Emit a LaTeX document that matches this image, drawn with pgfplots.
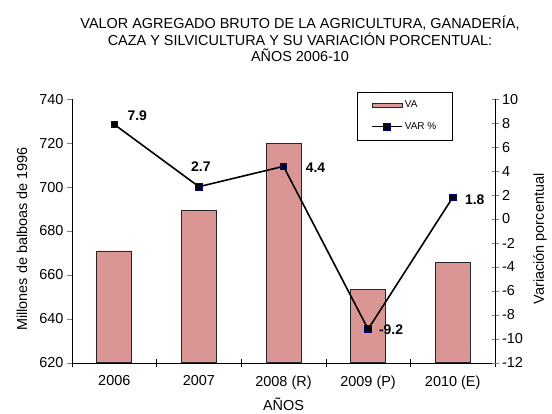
\documentclass[border=0pt]{standalone}
\usepackage{fontspec}
\setmainfont{Liberation Sans}
\usepackage{pgfplots}
\pgfplotsset{compat=1.18}
\definecolor{barfill}{RGB}{217,150,148}
\definecolor{mkedge}{RGB}{0,0,128}

\begin{document}
\begin{tikzpicture}
\pgfplotsset{
  every axis/.append style={
    scale only axis, width=423bp, height=263.4bp,
    xmin=-0.5, xmax=4.5,
    tick label style={font=\fontsize{14.5}{16}\selectfont},
    label style={font=\fontsize{14.5}{16}\selectfont},
    /pgf/number format/assume math mode=true,
  },
}
% valor agregado (barras, eje izquierdo)
\begin{axis}[
  name=va,
  ymin=620, ymax=740, ytick={620,640,...,740},
  axis x line*=bottom, axis y line*=left,
  xtick={0,...,4},
  xticklabels={2006,2007,2008 (R),2009 (P),2010 (E)},
  xticklabel style={yshift=-7bp},
  major x tick style={draw=none},
  minor xtick={-0.5,0.5,...,4.5},
  minor x tick style={black},
  minor tick length=8bp,
  xtick align=center,
  ytick align=outside, major tick length=5bp,
  xlabel={AÑOS},
  ylabel={Millones de balboas de 1996},
  ylabel style={at={(rel axis cs:0,0.47)}, anchor=center, yshift=50bp},
  xlabel style={at={(rel axis cs:0.5,0)}, anchor=center, yshift=-42bp},
  clip=false,
]
\addplot[ybar, bar width=35bp, fill=barfill, draw=black!85, line width=0.8bp]
  coordinates {(0,670.9) (1,689.2) (2,720.0) (3,653.4) (4,665.6)};
\end{axis}

% variacion porcentual (linea, eje derecho)
\begin{axis}[
  name=var,
  ymin=-12, ymax=10, ytick={-12,-10,...,10},
  axis x line=none, axis y line*=right,
  ytick align=center, major tick length=7bp,
  ylabel={Variación porcentual},
  ylabel style={at={(rel axis cs:1,0.47)}, anchor=center, yshift=-45bp},
  legend style={at={(0.674,1.028)}, anchor=north west, draw=black,
    font=\fontsize{10}{12}\selectfont, row sep=9bp, inner xsep=14bp, inner ysep=7bp},
  legend cell align=left,
  title={VALOR AGREGADO BRUTO DE LA AGRICULTURA, GANADERÍA,\\CAZA Y SILVICULTURA Y SU VARIACIÓN PORCENTUAL:\\AÑOS 2006-10},
  title style={at={(0.539,1)}, anchor=south, yshift=31bp, inner sep=0pt,
    align=center, font=\fontsize{14.5}{16.8}\selectfont},
  clip=false,
]
\addlegendimage{legend image code/.code={\draw[fill=barfill, draw=black!85] (0bp,-2.2bp) rectangle (30bp,2.2bp);}}
\addlegendentry{VA}
\addplot[black, line width=1.6bp, mark=square*,
  mark options={fill=black, draw=mkedge, line width=0.8bp, solid}, mark size=3.3bp,
  legend image code/.code={\draw[mark repeat=2,mark phase=2] plot coordinates {(0bp,0bp) (15bp,0bp) (30bp,0bp)};},
  nodes near coords, point meta=explicit symbolic,
  visualization depends on={value \thisrow{dx} \as \dx},
  visualization depends on={value \thisrow{dy} \as \dy},
  nodes near coords style={anchor=center, xshift=\dx bp, yshift=\dy bp,
    font=\bfseries\fontsize{14}{16}\selectfont, text=black},
] table[x=x, y=y, meta=lab] {
x y lab dx dy
0 7.9 7.9 23 9
1 2.7 2.7 2 20
2 4.4 4.4 32 -1
3 -9.2 -9.2 23 -1
4 1.8 1.8 22 -2
};
\addlegendentry{VAR \%}
\end{axis}
\pgfresetboundingbox
\path[use as bounding box] ([shift={(-72bp,-51.3bp)}]va.south west) rectangle ([shift={(480bp,362.7bp)}]va.south west);
\end{tikzpicture}
\end{document}
